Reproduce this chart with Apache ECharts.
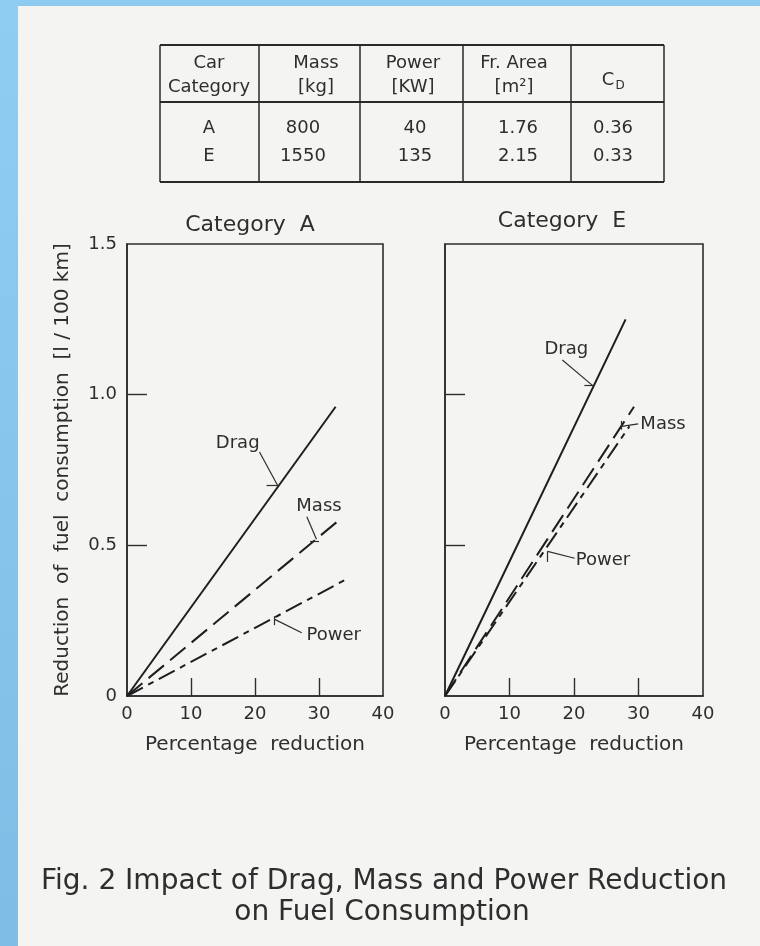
<!DOCTYPE html>
<html><head><meta charset="utf-8">
<script src="https://cdn.jsdelivr.net/npm/echarts@6/dist/echarts.min.js"></script>
<style>html,body{margin:0;padding:0;background:#f4f4f2}#c{width:760px;height:946px}</style>
</head><body><div id="c"></div>
<script>
// ---------- data ----------
const xTicks = [0, 10, 20, 30, 40];
const yTicks = [0, 0.5, 1.0, 1.5];
const yTickLabels = ['0', '0.5', '1.0', '1.5'];
const xInnerTicks = [10, 20, 30];
const yInnerTicks = [0.5, 1.0];
const chartTitles = ['Category  A', 'Category  E'];
const xAxisName = 'Percentage  reduction';
const yAxisName = 'Reduction  of  fuel  consumption  [l / 100 km]';
const seriesNames = ['Drag', 'Mass', 'Power'];
// [percentage reduction, reduction of fuel consumption l/100km]
const catA_drag  = [[0, 0], [32.6, 0.96]];
const catA_mass  = [[0, 0], [33.5, 0.59]];
const catA_power = [[0, 0], [34.5, 0.39]];
const catE_drag  = [[0, 0], [28.0, 1.25]];
const catE_mass  = [[0, 0], [29.3, 0.96]];
const catE_power = [[0, 0], [28.6, 0.895]];
// table
const tableHeader = [['Car', 'Category'], ['Mass', '[kg]'], ['Power', '[KW]'], ['Fr. Area', '[m²]']];
const tableCategory = ['A', 'E'];
const tableMass = ['800', '1550'];
const tablePower = ['40', '135'];
const tableArea = ['1.76', '2.15'];
const tableCd = ['0.36', '0.33'];
const captionLines = ['Fig. 2 Impact of Drag, Mass and Power Reduction', 'on Fuel Consumption'];

// ---------- annotations (data coordinates) ----------
const annA = {
  Drag:  {text: [17.3, 0.84], lines: [[[20.7, 0.81], [23.5, 0.70]], [[21.8, 0.70], [23.7, 0.70]]]},
  Mass:  {text: [30.0, 0.63], lines: [[[28.1, 0.595], [29.6, 0.52]], [[28.6, 0.515], [30.0, 0.515]]]},
  Power: {text: [32.3, 0.20], lines: [[[27.3, 0.21], [23.0, 0.255]], [[23.0, 0.265], [23.0, 0.235]]]}
};
const annE = {
  Drag:  {text: [18.8, 1.15], lines: [[[18.2, 1.115], [22.9, 1.03]], [[21.6, 1.03], [23.2, 1.03]]]},
  Mass:  {text: [33.8, 0.90], lines: [[[29.95, 0.903], [27.4, 0.895]], [[27.4, 0.913], [27.4, 0.884]]]},
  Power: {text: [24.5, 0.451], lines: [[[20.1, 0.457], [15.9, 0.48]], [[15.9, 0.48], [15.9, 0.445]]]}
};

const FONT = 'DejaVu Sans';
const INK = '#2e2e2e';
const dashStyles = {Drag: 'solid', Mass: [20, 8], Power: [18, 6, 6, 6]};

function makeSeries(name, data, gi, ann) {
  const a = ann[name];
  return {
    name: name, type: 'line', data: data, xAxisIndex: gi, yAxisIndex: gi,
    showSymbol: false, symbol: 'none', silent: true, animation: false,
    lineStyle: {color: '#1e1e1e', width: 2, type: dashStyles[name]},
    markLine: {
      silent: true, animation: false, symbol: ['none', 'none'],
      label: {show: false},
      lineStyle: {color: INK, width: 1.2, type: 'solid'},
      data: a.lines.map(l => [{coord: l[0]}, {coord: l[1]}])
    },
    markPoint: {
      silent: true, animation: false, symbol: 'rect', symbolSize: 1,
      itemStyle: {color: 'rgba(0,0,0,0)'},
      label: {show: true, position: 'inside', formatter: '{b}', fontFamily: FONT, fontSize: 18, color: INK},
      data: [{name: name, coord: a.text}]
    }
  };
}

function xAx(gi) {
  return {
    type: 'value', gridIndex: gi, min: xTicks[0], max: xTicks[xTicks.length - 1], interval: 10,
    axisLine: {show: true, lineStyle: {color: INK, width: 1.6}},
    axisTick: {show: true, inside: true, length: 18, customValues: xInnerTicks, lineStyle: {color: INK, width: 1.4}},
    axisLabel: {fontFamily: FONT, fontSize: 18, color: INK, margin: 9},
    splitLine: {show: false},
    name: xAxisName, nameLocation: 'middle', nameGap: 39,
    nameTextStyle: {fontFamily: FONT, fontSize: 20, color: INK}
  };
}
function yAx(gi, showLabels) {
  return {
    type: 'value', gridIndex: gi, min: yTicks[0], max: yTicks[yTicks.length - 1], interval: 0.5,
    axisLine: {show: true, lineStyle: {color: INK, width: 1.6}},
    axisTick: {show: true, inside: true, length: 20, customValues: yInnerTicks, lineStyle: {color: INK, width: 1.4}},
    axisLabel: {show: showLabels, fontFamily: FONT, fontSize: 18, color: INK, margin: 10,
      formatter: v => { const i = yTicks.findIndex(t => Math.abs(t - v) < 1e-9); return i >= 0 ? yTickLabels[i] : ''; }},
    splitLine: {show: false},
    name: showLabels ? yAxisName : '', nameLocation: 'middle', nameGap: 54, nameRotate: 90,
    nameTextStyle: {fontFamily: FONT, fontSize: 20, color: INK}
  };
}

// ---------- graphic: page border, table, titles, caption ----------
const g = [];
g.push({type: 'rect', z: 0, shape: {x: 0, y: 0, width: 760, height: 6}, style: {fill: '#8dcbf0'}});
g.push({type: 'rect', z: 0, shape: {x: 0, y: 0, width: 18, height: 946},
  style: {fill: new echarts.graphic.LinearGradient(0, 0, 0, 1, [{offset: 0, color: '#8fcdf3'}, {offset: 1, color: '#7fbde6'}])}});

const T = {left: 160, right: 664, top: 45, head: 102, bottom: 182, cols: [259, 360, 463, 571]};
const hl = (x1, y1, x2, y2, w) => g.push({type: 'line', shape: {x1, y1, x2, y2}, style: {stroke: '#2a2a2a', lineWidth: w}});
hl(T.left, T.top, T.right, T.top, 2);
hl(T.left, T.head, T.right, T.head, 2);
hl(T.left, T.bottom, T.right, T.bottom, 2);
hl(T.left, T.top, T.left, T.bottom, 1.5);
hl(T.right, T.top, T.right, T.bottom, 1.5);
T.cols.forEach(x => hl(x, T.top, x, T.bottom, 1.5));
const txt = (s, x, y, size) => g.push({type: 'text', x: x, y: y,
  style: {text: s, fontFamily: FONT, fontSize: size, fill: INK, align: 'center', verticalAlign: 'middle'}});
const headCenters = [209, 316, 413, 514];
tableHeader.forEach((h, i) => { txt(h[0], headCenters[i], 63, 18); txt(h[1], headCenters[i], 87, 18); });
txt('C', 608, 80, 18);
txt('D', 620, 86, 12);
const valCenters = [209, 303, 415, 518, 613];
[tableCategory, tableMass, tablePower, tableArea, tableCd].forEach((col, i) => {
  col.forEach((v, r) => txt(v, valCenters[i], r === 0 ? 128 : 156, 18));
});
txt(chartTitles[0], 250, 225, 22);
txt(chartTitles[1], 562, 221, 22);
txt(captionLines[0], 384, 882, 28);
txt(captionLines[1], 382, 913, 28);

const option = {
  animation: false,
  backgroundColor: '#f4f4f2',
  grid: [
    {left: 127, right: 377, top: 244, bottom: 250, show: true, borderColor: INK, borderWidth: 1.6, backgroundColor: 'transparent'},
    {left: 445, right: 57, top: 244, bottom: 250, show: true, borderColor: INK, borderWidth: 1.6, backgroundColor: 'transparent'}
  ],
  xAxis: [xAx(0), xAx(1)],
  yAxis: [yAx(0, true), yAx(1, false)],
  series: [
    makeSeries('Drag', catA_drag, 0, annA),
    makeSeries('Mass', catA_mass, 0, annA),
    makeSeries('Power', catA_power, 0, annA),
    makeSeries('Drag', catE_drag, 1, annE),
    makeSeries('Mass', catE_mass, 1, annE),
    makeSeries('Power', catE_power, 1, annE)
  ],
  graphic: g
};
const chart = echarts.init(document.getElementById('c'), null, {renderer: 'canvas'});
chart.setOption(option);
</script>
</body></html>
